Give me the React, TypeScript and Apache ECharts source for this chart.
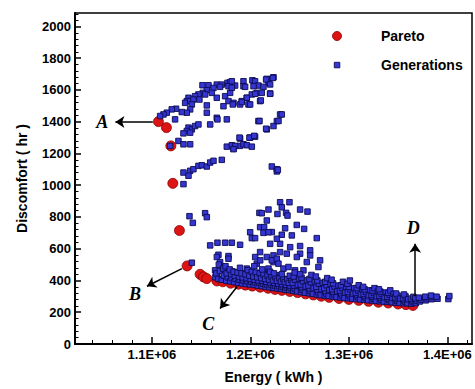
import React, { useEffect, useRef } from "react";
import * as echarts from "echarts";

// ---- Data ----
const xMajorTicks = [1100e3, 1200e3, 1300e3, 1400e3];
const yMajorTicks = [0, 200, 400, 600, 800, 1000, 1200, 1400, 1600, 1800, 2000];

const paretoPoints: number[][] = [
  [1106.7e3, 1401], [1114.8e3, 1363], [1119.3e3, 1248], [1121.3e3, 1012], [1128.0e3, 715],
  [1135.8e3, 492], [1149.0e3, 439], [1152.4e3, 423], [1155.8e3, 412], [1166.0e3, 397],
  [1172e3, 392], [1180e3, 383], [1188e3, 377], [1195e3, 371], [1202e3, 365], [1210e3, 358],
  [1218e3, 351], [1225e3, 344], [1232e3, 338], [1240e3, 331], [1248e3, 324], [1256e3, 316],
  [1264e3, 309], [1272e3, 301], [1280e3, 294], [1290e3, 287], [1300e3, 281], [1310e3, 275],
  [1320e3, 269], [1330e3, 263], [1340e3, 258], [1350e3, 252], [1358e3, 248], [1365e3, 243],
];

const generationPoints: number[][] = [
  // upper cluster
  [1151.4e3, 1630], [1157.5e3, 1630], [1165.9e3, 1634], [1171.0e3, 1634], [1176.8e3, 1645],
  [1179.5e3, 1649], [1193.0e3, 1655], [1202.1e3, 1661], [1204.8e3, 1655], [1216.7e3, 1670],
  [1223.5e3, 1680], [1218.4e3, 1645], [1208.2e3, 1628], [1203.2e3, 1624], [1193.0e3, 1624],
  [1184.5e3, 1628], [1177.8e3, 1624], [1169.3e3, 1620], [1162.6e3, 1613], [1155.8e3, 1599],
  [1151.7e3, 1582], [1147.3e3, 1572], [1143.9e3, 1561], [1137.2e3, 1551], [1135.5e3, 1530],
  [1133.8e3, 1519], [1138.9e3, 1530], [1142.2e3, 1540], [1148.3e3, 1540], [1154.1e3, 1572],
  [1160.9e3, 1582], [1165.9e3, 1551], [1174.4e3, 1561], [1179.5e3, 1582], [1177.8e3, 1530],
  [1182.9e3, 1519], [1191.3e3, 1530], [1196.4e3, 1551], [1201.5e3, 1572], [1206.5e3, 1582],
  [1211.6e3, 1582], [1220.1e3, 1578], [1209.9e3, 1530], [1198.1e3, 1509], [1189.6e3, 1509],
  [1172.7e3, 1498], [1155.8e3, 1503], [1140.6e3, 1509], [1138.9e3, 1478], [1135.5e3, 1457],
  [1130.4e3, 1461], [1124.6e3, 1482], [1120.2e3, 1478], [1115.2e3, 1457], [1111.8e3, 1446],
  [1108.4e3, 1436], [1123.6e3, 1415], [1155.8e3, 1457], [1165.9e3, 1425], [1176.1e3, 1415],
  [1137.2e3, 1363], [1140.6e3, 1352], [1143.9e3, 1373], [1147.3e3, 1383], [1135.5e3, 1342],
  [1132.1e3, 1327], [1138.9e3, 1331], [1159.2e3, 1383], [1166.6e3, 1415], [1127.0e3, 1279],
  [1132.1e3, 1258], [1138.9e3, 1258], [1118.6e3, 1248], [1176.1e3, 1243], [1182.9e3, 1231],
  [1181.2e3, 1252], [1189.6e3, 1248], [1193.0e3, 1258], [1196.4e3, 1252], [1189.6e3, 1294],
  [1199.8e3, 1300], [1204.8e3, 1306], [1201.5e3, 1243], [1208.2e3, 1404], [1216.7e3, 1352],
  [1223.5e3, 1373], [1226.9e3, 1404], [1230.2e3, 1446], [1221.8e3, 1118], [1226.9e3, 1101],
  [1226.9e3, 1087], [1132.1e3, 1080], [1138.9e3, 1091], [1142.2e3, 1101], [1147.3e3, 1122],
  [1150.7e3, 1126], [1155.8e3, 1118], [1159.2e3, 1143], [1162.6e3, 1154], [1171.0e3, 1160],
  [1137.2e3, 1060], [1132.1e3, 1007],
  [1181.2e3, 1655], [1181.2e3, 1614], [1194.7e3, 1620], [1213.3e3, 1620], [1216.0e3, 1666],
  [1222.8e3, 1676], [1220.1e3, 1635], [1204.9e3, 1576], [1220.1e3, 1576], [1196.4e3, 1551],
  [1191.3e3, 1524], [1199.8e3, 1509], [1210.6e3, 1534], [1182.2e3, 1509], [1231.9e3, 1446],
  [1228.6e3, 1405], [1216.0e3, 1356], [1209.3e3, 1405], [1189.0e3, 1300], [1199.1e3, 1300],
  [1203.9e3, 1311], [1184.6e3, 1248], [1182.9e3, 1227], [1227.9e3, 1097],
  // middle region
  [1138.2e3, 805], [1141.6e3, 763], [1154.1e3, 824], [1155.8e3, 799], [1159.2e3, 621],
  [1166.6e3, 638], [1174.4e3, 638], [1181.2e3, 638], [1189.6e3, 625], [1167.6e3, 562],
  [1166.0e3, 548], [1177.8e3, 554], [1177.8e3, 537], [1169.3e3, 516], [1171.0e3, 485],
  [1164.2e3, 464], [1166.0e3, 433], [1174.4e3, 454], [1181.2e3, 458], [1186.2e3, 433],
  [1189.6e3, 412], [1196.4e3, 475], [1199.8e3, 454], [1206.5e3, 506], [1204.9e3, 548],
  [1210.0e3, 527], [1216.7e3, 548], [1223.5e3, 516], [1218.4e3, 475], [1213.3e3, 454],
  [1206.5e3, 433], [1199.8e3, 412], [1210.0e3, 412], [1220.1e3, 412], [1226.9e3, 433],
  [1140.6e3, 512], [1221.8e3, 705],
  [1230.2e3, 893], [1239.7e3, 893], [1231.9e3, 861], [1209.2e3, 826], [1211.6e3, 824],
  [1218.4e3, 847], [1227.5e3, 819], [1236.3e3, 826], [1237.7e3, 809], [1250.5e3, 847],
  [1258.0e3, 834], [1216.7e3, 778], [1209.9e3, 736], [1214.0e3, 736], [1213.3e3, 700],
  [1199.8e3, 704], [1201.5e3, 667], [1204.8e3, 667], [1231.9e3, 688], [1235.3e3, 729],
  [1247.1e3, 750], [1254.6e3, 725], [1267.4e3, 667], [1220.1e3, 631], [1230.2e3, 631],
  [1240.4e3, 610], [1250.5e3, 617], [1260.7e3, 590], [1209.9e3, 579], [1223.5e3, 558],
  [1230.2e3, 579], [1237.0e3, 569], [1250.5e3, 569], [1221.8e3, 527], [1226.8e3, 537],
  [1228.5e3, 506], [1233.6e3, 475], [1238.7e3, 485], [1245.4e3, 464], [1253.9e3, 464],
  [1257.3e3, 516], [1269.1e3, 485], [1270.8e3, 527], [1260.7e3, 558], [1242.1e3, 684],
  [1218.4e3, 704], [1247.2e3, 548], [1226.9e3, 663],
  // dense band
  [1164.5e3, 420], [1165.5e3, 445],
  [1167.5e3, 410], [1169e3, 460], [1168e3, 500],
  [1171e3, 405], [1173e3, 430], [1172.5e3, 475],
  [1175.5e3, 398], [1177e3, 420], [1176e3, 445], [1174.8e3, 490],
  [1179.5e3, 395], [1181e3, 415], [1180.5e3, 440], [1179e3, 470],
  [1183.5e3, 390], [1185e3, 410], [1184.2e3, 430], [1183e3, 455],
  [1187.5e3, 385], [1189e3, 405], [1188.4e3, 425], [1187e3, 450], [1189.5e3, 480],
  [1191.5e3, 382], [1193e3, 400], [1192.2e3, 420], [1191e3, 445],
  [1195.5e3, 378], [1197e3, 395], [1196.3e3, 415], [1195e3, 440], [1197.4e3, 465],
  [1199.5e3, 375], [1201e3, 392], [1200.2e3, 410], [1199e3, 430], [1201.5e3, 455],
  [1203.5e3, 372], [1205e3, 388], [1204.3e3, 405], [1203e3, 425], [1205.5e3, 450], [1204e3, 490],
  [1207.5e3, 368], [1209e3, 385], [1208.2e3, 400], [1207e3, 420], [1209.5e3, 445],
  [1211.5e3, 365], [1213e3, 380], [1212.3e3, 398], [1211e3, 415], [1213.4e3, 438], [1212e3, 470],
  [1215.5e3, 360], [1217e3, 375], [1216.2e3, 392], [1215e3, 410], [1217.5e3, 430],
  [1219.5e3, 357], [1221e3, 372], [1220.3e3, 388], [1219e3, 405], [1221.5e3, 425], [1220e3, 455],
  [1223.5e3, 353], [1225e3, 368], [1224.2e3, 385], [1223e3, 400], [1225.5e3, 420], [1224e3, 445],
  [1227.5e3, 350], [1229e3, 365], [1228.3e3, 380], [1227e3, 398], [1229.5e3, 415],
  [1231.5e3, 346], [1233e3, 360], [1232.2e3, 377], [1231e3, 393], [1233.5e3, 410], [1232e3, 440],
  [1235.5e3, 342], [1237e3, 356], [1236.3e3, 372], [1235e3, 390], [1237.5e3, 408],
  [1239.5e3, 339], [1241e3, 352], [1240.2e3, 368], [1239e3, 385], [1241.5e3, 405], [1240e3, 430],
  [1243.5e3, 335], [1245e3, 350], [1244.3e3, 368], [1243e3, 385], [1245.5e3, 405], [1244e3, 425], [1245e3, 450],
  [1247.5e3, 331], [1248.2e3, 372], [1249.5e3, 412],
  [1251.5e3, 327], [1253e3, 342], [1252.2e3, 358], [1251e3, 375], [1253.5e3, 395], [1252e3, 418], [1250.5e3, 440],
  [1255.5e3, 323], [1256.2e3, 362], [1257.5e3, 402],
  [1259.5e3, 320], [1261e3, 334], [1260.3e3, 350], [1259e3, 368], [1261.5e3, 388], [1260e3, 410], [1262e3, 435],
  [1263.5e3, 316], [1264.2e3, 352], [1265.5e3, 394],
  [1267.5e3, 312], [1269e3, 326], [1268.2e3, 342], [1267e3, 360], [1269.5e3, 380], [1268e3, 400], [1266.5e3, 425],
  [1271.5e3, 308], [1272.2e3, 345], [1273.5e3, 386],
  [1275.5e3, 305], [1277e3, 318], [1276.3e3, 334], [1275e3, 352], [1277.5e3, 370], [1276e3, 392], [1278e3, 415],
  [1279.5e3, 302], [1280.2e3, 340], [1281.5e3, 378],
  [1283.5e3, 299], [1285e3, 312], [1284.2e3, 328], [1283e3, 345], [1285.5e3, 362], [1284e3, 382], [1282.5e3, 405],
  [1287.5e3, 296], [1288.2e3, 332], [1289.5e3, 368],
  [1291.5e3, 293], [1293e3, 306], [1292.3e3, 320], [1291e3, 336], [1293.5e3, 352], [1292e3, 370], [1294e3, 392],
  [1295.5e3, 290], [1296.2e3, 324], [1297.5e3, 358],
  [1299.5e3, 288], [1301e3, 300], [1300.2e3, 314], [1299e3, 328], [1301.5e3, 344], [1300e3, 360], [1298.5e3, 380], [1301e3, 400],
  [1303.5e3, 286], [1304.2e3, 318], [1305.5e3, 352],
  [1307.5e3, 283], [1309e3, 295], [1308.3e3, 308], [1307e3, 322], [1309.5e3, 336], [1308e3, 352], [1310e3, 370],
  [1311.5e3, 281], [1312.2e3, 312], [1313.5e3, 345],
  [1315.5e3, 279], [1317e3, 290], [1316.2e3, 302], [1315e3, 315], [1317.5e3, 328], [1316e3, 344], [1314.5e3, 360],
  [1319.5e3, 276], [1320.2e3, 306], [1321.5e3, 338],
  [1323.5e3, 274], [1325e3, 285], [1324.3e3, 297], [1323e3, 309], [1325.5e3, 322], [1324e3, 336], [1326e3, 352],
  [1327.5e3, 271], [1328.2e3, 300], [1329.5e3, 330],
  [1331.5e3, 269], [1333e3, 280], [1332.2e3, 292], [1331e3, 304], [1333.5e3, 316], [1332e3, 330], [1330.5e3, 345],
  [1335.5e3, 267], [1336.2e3, 294], [1337.5e3, 324],
  [1339.5e3, 265], [1341e3, 276], [1340.3e3, 287], [1339e3, 298], [1341.5e3, 310], [1340e3, 323], [1342e3, 338],
  [1343.5e3, 263], [1344.2e3, 290], [1345.5e3, 316],
  [1347.5e3, 261], [1349e3, 272], [1348.2e3, 283], [1347e3, 294], [1349.5e3, 305], [1348e3, 318],
  [1351.5e3, 259], [1352.2e3, 286],
  [1355.5e3, 257], [1357e3, 267], [1356.3e3, 278], [1355e3, 289], [1357.5e3, 300], [1356e3, 312],
  [1359.5e3, 256], [1360.2e3, 282],
  [1363.5e3, 254], [1365e3, 264], [1364.2e3, 275], [1363e3, 286], [1365.5e3, 297],
  [1368e3, 258], [1369e3, 272], [1367.5e3, 288],
  [1372e3, 268], [1373e3, 280], [1371e3, 292], [1378e3, 275], [1379e3, 288], [1377.5e3, 298],
  [1384e3, 282], [1385e3, 296], [1383.5e3, 305], [1390e3, 285], [1389e3, 298],
  [1401e3, 283], [1402e3, 302],
];

// annotation arrows (data coordinates): [fromX, fromY, toX, toY]
const annotationArrows: number[][] = [
  [1101e3, 1398, 1063e3, 1398],
  [1130.5e3, 475, 1095e3, 364],
  [1186.6e3, 362, 1169.3e3, 224],
  [1367.3e3, 300, 1367.3e3, 631],
];
const annotationLetters = ["A", "B", "C", "D"];
const annotationLetterPos: number[][] = [
  [1049.6e3, 1401],
  [1083e3, 312],
  [1157.2e3, 124],
  [1365.3e3, 731],
];

const X_MIN = 1022e3;
const X_MAX = 1425e3;
const Y_MIN = 0;
const Y_MAX = 2085;

const xMinorTicks: number[] = [];
for (let v = 1040e3; v <= 1420e3; v += 20e3) {
  if (!xMajorTicks.includes(v)) xMinorTicks.push(v);
}
const yMinorTicks: number[] = [];
for (let v = 40; v <= 2080; v += 40) {
  if (!yMajorTicks.includes(v)) yMinorTicks.push(v);
}

const FONT = "'Liberation Sans', Arial, Helvetica, sans-serif";
const RED = "#dd1414";
const RED_BORDER = "#8a0000";
const BLUE = "#3535d2";
const BLUE_BORDER = "#0c0c50";

export default function App() {
  const ref = useRef<HTMLDivElement>(null);

  useEffect(() => {
    document.body.style.margin = "0";
    if (!ref.current) return;
    const chart = echarts.init(ref.current, undefined, { renderer: "svg" });

    const axisCommon = {
      type: "value" as const,
      splitLine: { show: false },
    };

    chart.setOption({
      animation: false,
      backgroundColor: "#ffffff",
      grid: {
        left: 75,
        right: 3,
        top: 13,
        bottom: 42,
        show: true,
        borderColor: "#000",
        borderWidth: 1.5,
        backgroundColor: "transparent",
      },
      xAxis: [
        {
          ...axisCommon,
          min: X_MIN,
          max: X_MAX,
          position: "bottom",
          name: "Energy ( kWh )",
          nameLocation: "middle",
          nameGap: 26,
          nameTextStyle: { fontFamily: FONT, fontWeight: "bold", fontSize: 14, color: "#000" },
          axisLine: { show: true, lineStyle: { color: "#000", width: 2 } },
          axisTick: { show: true, inside: true, length: 7, customValues: xMajorTicks, lineStyle: { color: "#000", width: 1.5 } },
          axisLabel: {
            show: true,
            customValues: xMajorTicks,
            margin: 4,
            fontFamily: FONT,
            fontWeight: "bold",
            fontSize: 13,
            color: "#000",
            formatter: (v: number) => (v / 1e6).toFixed(1) + "E+06",
          },
        },
        {
          ...axisCommon,
          min: X_MIN,
          max: X_MAX,
          position: "bottom",
          axisLine: { show: false },
          axisTick: { show: true, inside: true, length: 4, customValues: xMinorTicks, lineStyle: { color: "#000", width: 1 } },
          axisLabel: { show: false },
        },
      ],
      yAxis: [
        {
          ...axisCommon,
          min: Y_MIN,
          max: Y_MAX,
          position: "left",
          name: "Discomfort ( hr )",
          nameLocation: "middle",
          nameGap: 46,
          nameTextStyle: { fontFamily: FONT, fontWeight: "bold", fontSize: 14, color: "#000" },
          axisLine: { show: true, lineStyle: { color: "#000", width: 2 } },
          axisTick: { show: true, inside: true, length: 6, customValues: yMajorTicks, lineStyle: { color: "#000", width: 1.5 } },
          axisLabel: {
            show: true,
            customValues: yMajorTicks,
            margin: 4,
            fontFamily: FONT,
            fontWeight: "bold",
            fontSize: 13,
            color: "#000",
            formatter: (v: number) => String(v),
          },
        },
        {
          ...axisCommon,
          min: Y_MIN,
          max: Y_MAX,
          position: "left",
          axisLine: { show: false },
          axisTick: { show: true, inside: true, length: 3.5, customValues: yMinorTicks, lineStyle: { color: "#000", width: 1 } },
          axisLabel: { show: false },
        },
      ],
      series: [
        {
          name: "Pareto",
          type: "scatter",
          xAxisIndex: 0,
          yAxisIndex: 0,
          symbol: "circle",
          symbolSize: 10,
          itemStyle: { color: RED, borderColor: RED_BORDER, borderWidth: 0.8, opacity: 1 },
          data: paretoPoints,
          z: 2,
          markLine: {
            silent: true,
            animation: false,
            symbol: ["none", "arrow"],
            symbolSize: 9,
            lineStyle: { color: "#000", width: 1.5, type: "solid" },
            label: { show: false },
            emphasis: { disabled: true },
            data: annotationArrows.map((a) => [
              { coord: [a[0], a[1]] },
              { coord: [a[2], a[3]] },
            ]),
          },
          markPoint: {
            silent: true,
            animation: false,
            symbol: "circle",
            symbolSize: 0,
            itemStyle: { color: "transparent" },
            label: {
              show: true,
              position: "inside",
              formatter: "{b}",
              fontFamily: "'Liberation Serif', 'Times New Roman', serif",
              fontStyle: "italic",
              fontWeight: "bold",
              fontSize: 18,
              color: "#000",
            },
            data: annotationLetters.map((l, i) => ({
              name: l,
              coord: annotationLetterPos[i],
            })),
          },
        },
        {
          name: "Generations",
          type: "scatter",
          xAxisIndex: 0,
          yAxisIndex: 0,
          symbol: "rect",
          symbolSize: 5.5,
          itemStyle: { color: BLUE, borderColor: BLUE_BORDER, borderWidth: 0.9, opacity: 1 },
          data: generationPoints,
          z: 3,
        },
      ],
      graphic: [
        {
          type: "circle",
          shape: { cx: 337, cy: 36, r: 4.5 },
          style: { fill: RED, stroke: RED_BORDER, lineWidth: 0.8 },
          z: 10,
        },
        {
          type: "rect",
          shape: { x: 334.3, y: 62.3, width: 5.5, height: 5.5 },
          style: { fill: BLUE, stroke: BLUE_BORDER, lineWidth: 0.9 },
          z: 10,
        },
        {
          type: "text",
          x: 381,
          y: 36,
          style: {
            text: "Pareto",
            fontFamily: FONT,
            fontWeight: "bold",
            fontSize: 14,
            fill: "#000",
            verticalAlign: "middle",
            align: "left",
          },
          z: 10,
        },
        {
          type: "text",
          x: 381,
          y: 65,
          style: {
            text: "Generations",
            fontFamily: FONT,
            fontWeight: "bold",
            fontSize: 14,
            fill: "#000",
            verticalAlign: "middle",
            align: "left",
          },
          z: 10,
        },
      ],
    });

    return () => {
      chart.dispose();
    };
  }, []);

  return <div ref={ref} style={{ width: 475, height: 389 }} />;
}
